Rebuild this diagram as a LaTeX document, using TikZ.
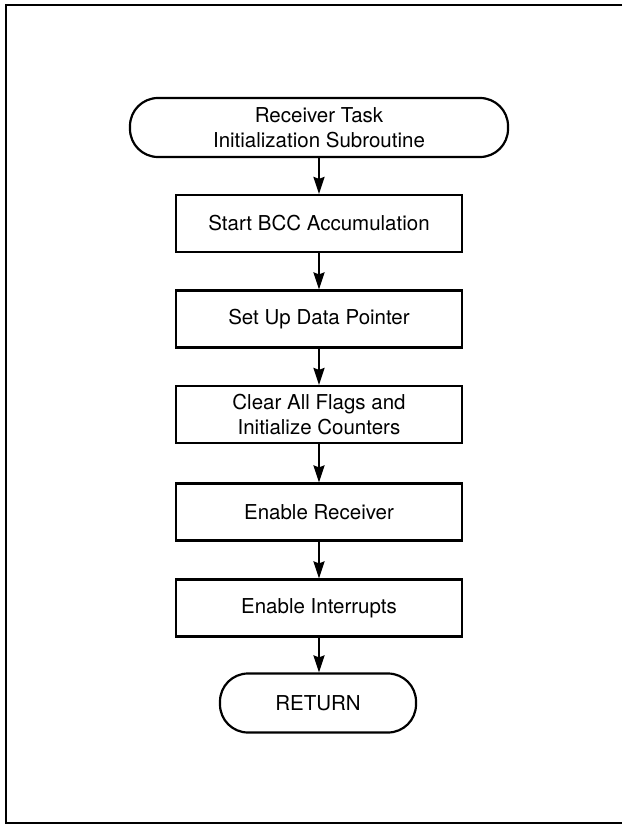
\documentclass[tikz,border=0pt]{standalone}
\usepackage{fontspec}
\setmainfont{TeX Gyre Heros}
\usetikzlibrary{arrows.meta}
\begin{document}
\begin{tikzpicture}[x=1pt,y=-1pt,
  line width=2.2pt,
  every node/.style={font=\fontsize{20.5}{25.5}\selectfont, align=center, inner sep=0pt},
  procbox/.style={draw, minimum width=286pt, minimum height=57pt},
  terminal/.style={draw, rounded corners=28pt, minimum height=59pt},
  flow/.style={-{Stealth[length=17pt,width=11pt,inset=2pt]}}]
  \useasboundingbox (0,0) rectangle (622,824);
  % page frame (open at the right)
  \draw (622,5) -- (6,5) -- (6,823) -- (622,823);

  \node[terminal, minimum width=378pt] (start) at (319,127.5)
    {Receiver Task\\Initialization Subroutine};
  \node[procbox] (bcc)  at (319,223.5) {Start BCC Accumulation};
  \node[procbox] (ptr)  at (319,319)   {Set Up Data Pointer};
  \node[procbox] (clr)  at (319,414.5) {Clear All Flags and\\Initialize Counters};
  \node[procbox] (rcv)  at (319,512)   {Enable Receiver};
  \node[procbox] (intr) at (319,608)   {Enable Interrupts};
  \node[terminal, minimum width=196pt] (ret) at (318,703) {RETURN};

  \draw[flow] (start) -- (bcc);
  \draw[flow] (bcc) -- (ptr);
  \draw[flow] (ptr) -- (clr);
  \draw[flow] (clr) -- (rcv);
  \draw[flow] (rcv) -- (intr);
  \draw[flow] (intr.south) -- (ret.north -| intr.south);
\end{tikzpicture}
\end{document}
